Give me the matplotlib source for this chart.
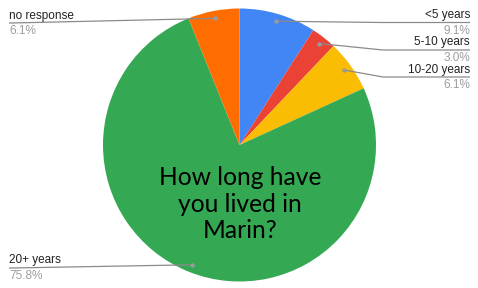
import numpy as np
import matplotlib
matplotlib.use("Agg")
import matplotlib.pyplot as plt

labels = ["<5 years", "5-10 years", "10-20 years", "20+ years", "no response"]
shares = [9.1, 3.0, 6.1, 75.8, 6.1]
colors = ["#4285F4", "#EA4335", "#FBBC04", "#34A853", "#FF6D01"]
title = "How long have\nyou lived in\nMarin?"

W, H = 478, 288
fig = plt.figure(figsize=(W / 100, H / 100), dpi=100)
ax = fig.add_axes([0, 0, 1, 1])

cx, cy, R = 239.5, H - 145, 136.5
wedges, _ = ax.pie(shares, colors=colors, startangle=90, counterclock=False,
                   center=(cx, cy), radius=R, frame=True,
                   wedgeprops=dict(linewidth=0))
ax.set_xlim(0, W)
ax.set_ylim(0, H)
ax.set_aspect("equal")
ax.axis("off")

# label rows (image y of the leader line), side of chart
rows = {"<5 years": (22.5, "right"), "5-10 years": (50, "right"),
        "10-20 years": (77, "right"), "20+ years": (268, "left"),
        "no response": (23, "left")}

for w, lab, pct in zip(wedges, labels, shares):
    mid = np.deg2rad((w.theta1 + w.theta2) / 2)
    dx = cx + 0.945 * R * np.cos(mid)
    dy = cy + 0.945 * R * np.sin(mid)
    ly, side = rows[lab]
    ly = H - ly
    if side == "right":
        ex, x_end, ha, tx = 383, 470, "right", 470
        if dx > ex:
            ex = dx
    else:
        ex, x_end, ha, tx = 12, 9, "left", 9
    ax.plot([dx, ex, x_end], [dy, ly, ly], color="#8a8a8a", lw=0.9,
            solid_capstyle="butt", zorder=3)
    ax.plot(dx, dy, "o", color="#9a9a9a", ms=3.2, mec="none", zorder=4)
    ax.text(tx, ly + 1.5, lab, ha=ha, va="bottom", fontsize=8.5,
            family="Liberation Sans", color="#222222")
    ax.text(tx, ly - 2, f"{pct:.1f}%", ha=ha, va="top", fontsize=8.5,
            family="Liberation Sans", color="#9e9e9e")

ax.text(cx + 0.5, H - 204, title, ha="center", va="center", fontsize=17.7,
        family="Lato", color="black", linespacing=1.17)

fig.savefig("out.png", dpi=100)
